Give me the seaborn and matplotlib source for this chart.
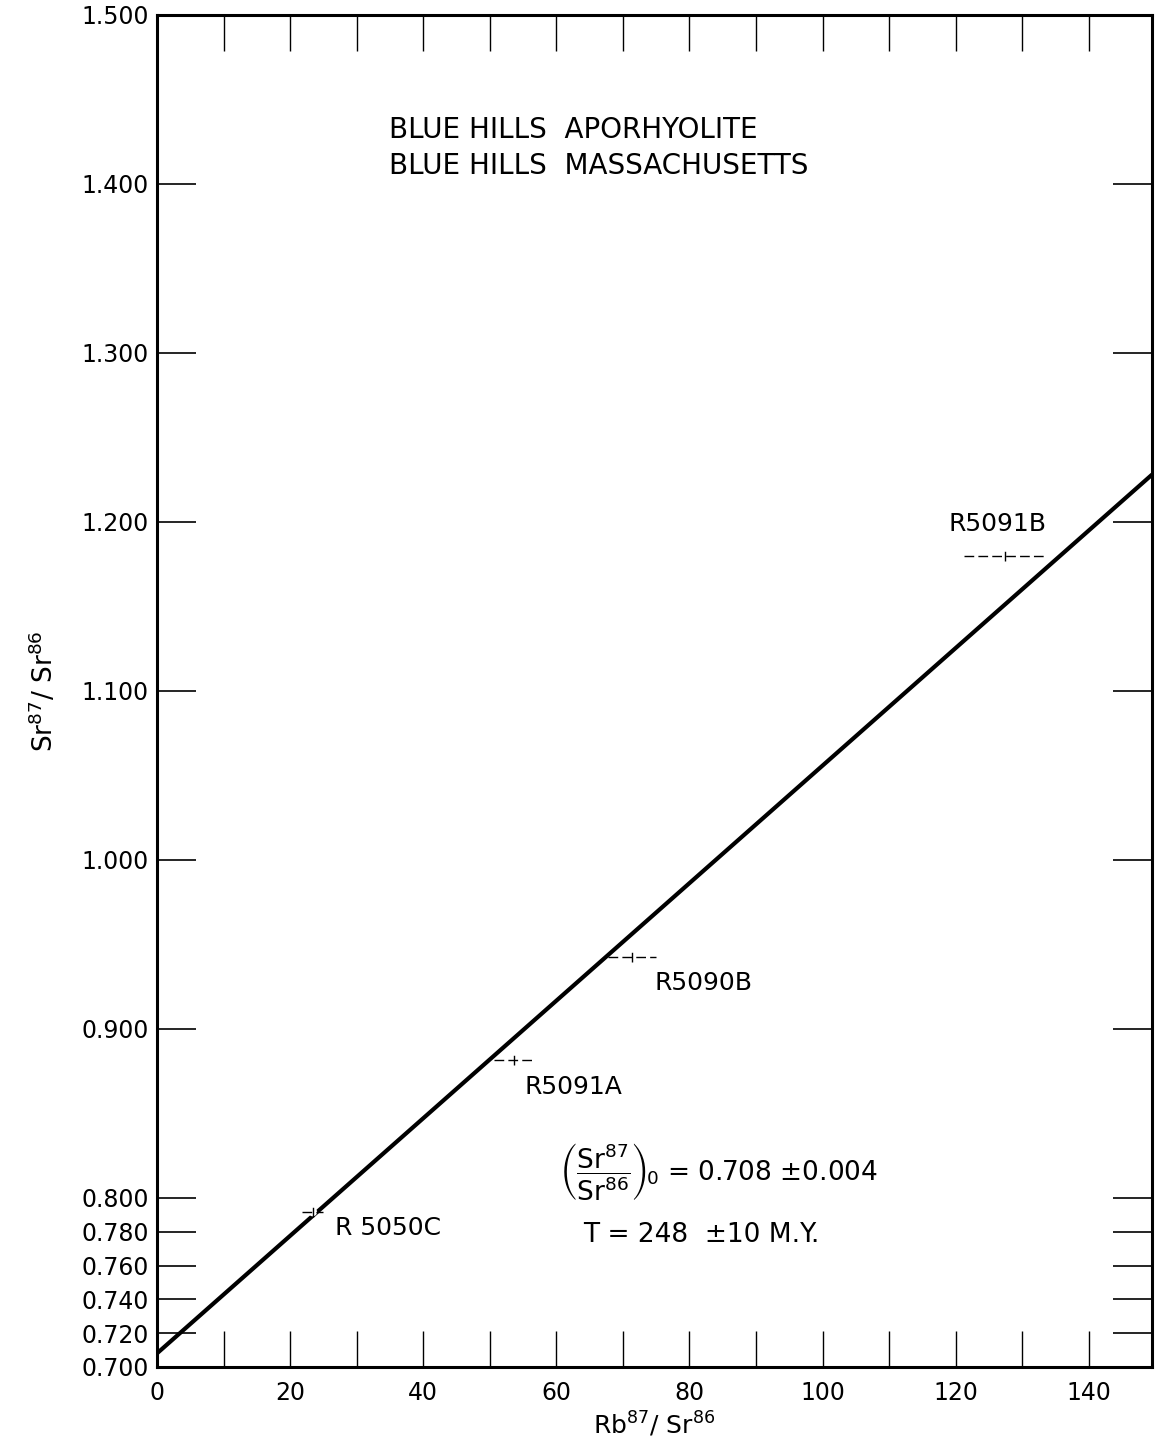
import matplotlib
matplotlib.use("Agg")
import matplotlib.pyplot as plt
import seaborn as sns
import pandas as pd

# ---- data ----
samples = ["R5050C", "R5091A", "R5090B", "R5091B"]
label_text = ["R 5050C", "R5091A", "R5090B", "R5091B"]
rb_sr = [23.4, 53.7, 71.4, 127.4]
sr_sr = [0.7917, 0.8817, 0.9426, 1.180]
rb_err = [1.6, 3.0, 3.6, 6.2]
sr_err = [0.003, 0.003, 0.003, 0.003]

iso_x = [0.0, 149.5]
iso_y = [0.708, 1.228]

x_ticks = [0, 10, 20, 30, 40, 50, 60, 70, 80, 90, 100, 110, 120, 130, 140]
x_ticklabels = ["0", "", "20", "", "40", "", "60", "", "80", "", "100", "", "120", "", "140"]
y_ticks = [0.70, 0.72, 0.74, 0.76, 0.78, 0.80, 0.90, 1.00, 1.10, 1.20, 1.30, 1.40, 1.50]
y_ticklabels = ["0.700", "0.720", "0.740", "0.760", "0.780", "0.800", "0.900",
                "1.000", "1.100", "1.200", "1.300", "1.400", "1.500"]

# label positions (text anchors, data coords)
label_x = [26.7, 55.2, 74.7, 118.9]
label_y = [0.7822, 0.8657, 0.927, 1.1988]

sns.set_style("ticks")
plt.rcParams['font.family'] = ['DejaVu Sans']
plt.rcParams['mathtext.fontset'] = 'dejavusans'
plt.rcParams['text.color'] = 'black'
plt.rcParams['axes.labelcolor'] = 'black'

fig = plt.figure(figsize=(11.55, 14.41), dpi=100)
ax = fig.add_axes([0.1359, 0.0514, 0.8615, 0.9382])

line_df = pd.DataFrame({"x": iso_x, "y": iso_y})
sns.lineplot(data=line_df, x="x", y="y", ax=ax, color="black", linewidth=3.0, zorder=2)

pts = pd.DataFrame({"x": rb_sr, "y": sr_sr})
sns.scatterplot(data=pts, x="x", y="y", ax=ax, s=40, color="white",
                edgecolor="none", zorder=2.5, legend=False)
eb = ax.errorbar(rb_sr, sr_sr, xerr=rb_err, yerr=sr_err, fmt="none",
                 ecolor="black", elinewidth=1.0, capsize=0, zorder=3)
for lc in eb.lines[2]:
    lc.set_linestyle((0, (7, 3)))

for t, lx, ly in zip(label_text, label_x, label_y):
    ax.text(lx, ly, t, fontsize=18, ha="left", va="center")

ax.text(34.9, 1.432, "BLUE HILLS  APORHYOLITE", fontsize=20, ha="left", va="center")
ax.text(34.9, 1.4107, "BLUE HILLS  MASSACHUSETTS", fontsize=20, ha="left", va="center")

ax.text(60.4, 0.8154,
        r"$\left(\dfrac{\mathrm{Sr}^{87}}{\mathrm{Sr}^{86}}\right)_{\!0}$ = 0.708 $\pm$0.004",
        fontsize=19, ha="left", va="center")
ax.text(64.0, 0.778, "T = 248  \u00b110 M.Y.", fontsize=19, ha="left", va="center")

ax.set_xlim(0, 149.5)
ax.set_ylim(0.70, 1.50)
ax.set_xticks(x_ticks)
ax.set_xticklabels(x_ticklabels, fontsize=17)
ax.set_yticks(y_ticks)
ax.set_yticklabels(y_ticklabels, fontsize=17)

ax.tick_params(axis="x", direction="in", length=26, width=1.0, top=True,
               bottom=True, pad=10, colors="black")
ax.tick_params(axis="y", direction="in", length=28, width=1.2, left=True,
               right=True, pad=6, colors="black")

for sp in ax.spines.values():
    sp.set_visible(True)
    sp.set_linewidth(2.2)
    sp.set_color("black")

ax.set_xlabel(r"Rb$^{87}$/ Sr$^{86}$", fontsize=18, labelpad=4)
ax.set_ylabel(r"Sr$^{87}$/ Sr$^{86}$", fontsize=19, labelpad=16)
ax.grid(False)

fig.savefig("out.png", dpi=100, facecolor="white")
